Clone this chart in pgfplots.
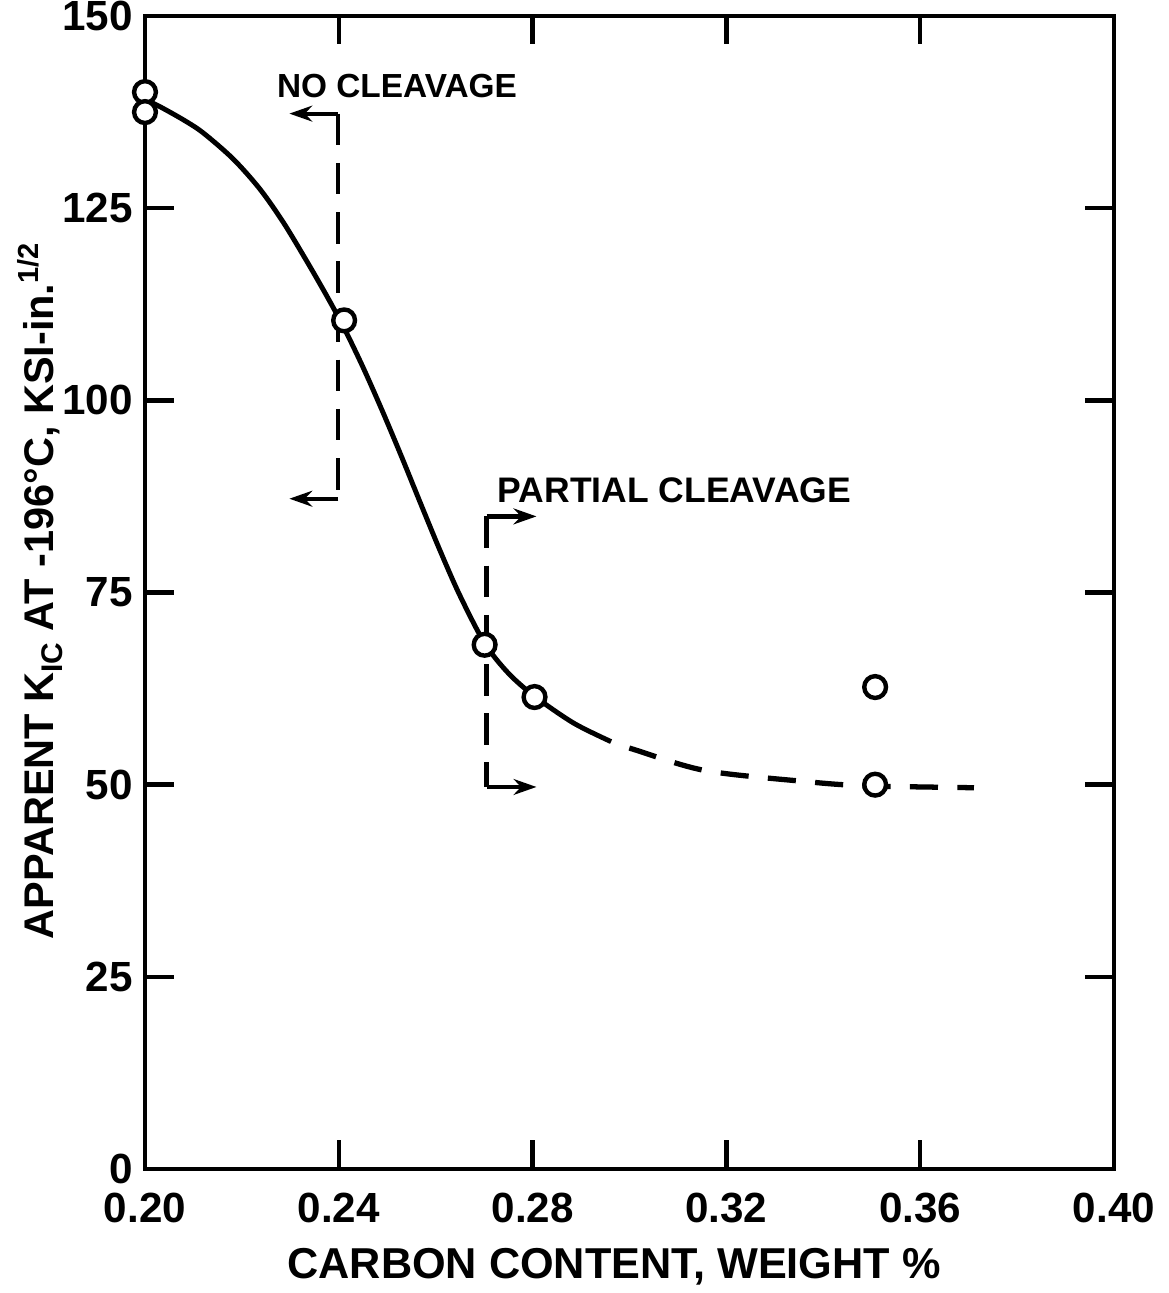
\documentclass[border=0pt]{standalone}
\usepackage{fontspec}
\setmainfont{Liberation Sans}
\usepackage{pgfplots}
\pgfplotsset{compat=1.18}
\usetikzlibrary{arrows.meta}

\begin{document}
\begin{tikzpicture}
\path[use as bounding box] (-1.45cm,-1.24cm) rectangle (10.24cm,11.69cm);
\begin{axis}[
  scale only axis,
  width=9.69cm, height=11.53cm,
  xmin=0.20, xmax=0.40, ymin=0, ymax=150,
  xtick={0.20,0.24,0.28,0.32,0.36,0.40},
  xticklabels={0.20,0.24,0.28,0.32,0.36,0.40},
  ytick={0,25,50,75,100,125,150},
  tick align=inside,
  major tick length=2.85mm,
  tick style={line width=1.3pt, black},
  axis line style={line width=1.4pt},
  tick label style={font=\bfseries\fontsize{12}{14}\selectfont},
  xticklabel style={yshift=-1.2mm},
  /pgf/number format/assume math mode=true,
  clip=false,
]
% fitted trend, solid part
\addplot[line width=1.4pt, smooth] coordinates {
  (0.2005,139.0) (0.2031,138.2) (0.2079,136.5) (0.2120,134.8)
  (0.2182,131.4) (0.2237,127.5) (0.2285,123.2) (0.2333,118.2)
  (0.2375,113.6) (0.2411,109.4) (0.2450,104.3) (0.2490,98.6)
  (0.2530,92.6) (0.2570,86.4) (0.2610,80.3) (0.2650,74.6)
  (0.2701,68.4) (0.2750,64.5) (0.2804,61.5) (0.2885,58.0)
  (0.2962,55.6)
};
% extrapolated part
\addplot[line width=1.5pt, smooth,
  dash pattern=on 8pt off 5.5pt, dash phase=8pt] coordinates {
  (0.2962,55.6) (0.3013,54.5) (0.3159,51.8) (0.3381,50.3)
  (0.3465,49.9) (0.3507,49.8) (0.3711,49.6)
};
% no cleavage bracket
\addplot[line width=1.2pt, dash pattern=on 9pt off 5pt] coordinates {
  (0.2399,137.3) (0.2399,87.2)
};
\addplot[line width=1.2pt, -{Stealth[length=6.5pt,width=4.5pt]}] coordinates {
  (0.2399,137.3) (0.2298,137.3)
};
\addplot[line width=1.2pt, -{Stealth[length=6.5pt,width=4.5pt]}] coordinates {
  (0.2399,87.2) (0.2298,87.2)
};
% partial cleavage bracket
\addplot[line width=1.2pt, dash pattern=on 9pt off 5pt] coordinates {
  (0.2705,84.9) (0.2705,49.7)
};
\addplot[line width=1.2pt, -{Stealth[length=6.5pt,width=4.5pt]}] coordinates {
  (0.2705,84.9) (0.2808,84.9)
};
\addplot[line width=1.2pt, -{Stealth[length=6.5pt,width=4.5pt]}] coordinates {
  (0.2705,49.7) (0.2808,49.7)
};
% measured values
\addplot[only marks, mark=*, mark size=3.1pt,
  mark options={fill=white, draw=black, line width=1.25pt}] coordinates {
  (0.2000,140.1) (0.2000,137.5) (0.2411,110.4) (0.2701,68.2)
  (0.2804,61.4) (0.3507,62.7) (0.3507,50.0)
};
\node[anchor=west, inner sep=0pt, font=\bfseries\fontsize{9.5}{12}\selectfont]
  at (axis cs:0.2271,140.9) {NO CLEAVAGE};
\node[anchor=west, inner sep=0pt, font=\bfseries\fontsize{10.1}{12}\selectfont]
  at (axis cs:0.2727,88.3) {PARTIAL CLEAVAGE};
\node[anchor=base, inner sep=0pt, font=\bfseries\fontsize{12.3}{14}\selectfont]
  at ([yshift=-10.9mm]rel axis cs:0.484,0) {CARBON CONTENT, WEIGHT \%};
\node[rotate=90, anchor=center, inner sep=0pt, font=\bfseries\fontsize{11.8}{14}\selectfont]
  at ([xshift=-10.5mm]rel axis cs:0,0.502)
  {APPARENT K\raisebox{-0.4ex}{\fontsize{8.5}{10}\selectfont IC} AT -196°C, KSI-in.\textsuperscript{1/2}};
\end{axis}
\end{tikzpicture}
\end{document}
